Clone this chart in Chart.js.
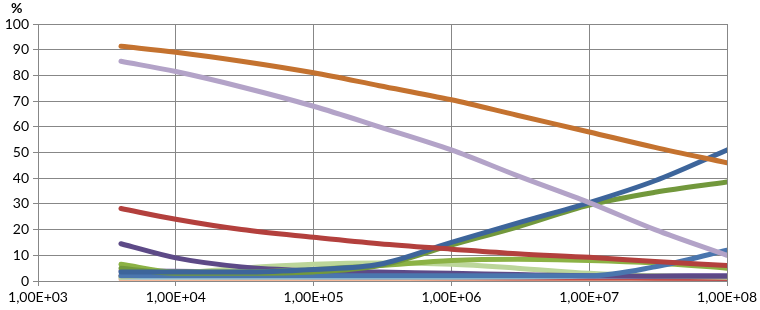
<!DOCTYPE html>
<html>
<head>
<meta charset="utf-8">
<script src="https://cdn.jsdelivr.net/npm/chart.js@4"></script>
<style>
  html, body { margin: 0; padding: 0; background: #fff; }
  #wrap { position: relative; width: 760px; height: 310px; }
  #pct { position: absolute; left: 11px; top: -1px; font: bold 14px Lato, "Open Sans", sans-serif; color: #000; }
</style>
</head>
<body>
<div id="wrap">
  <span id="pct">%</span>
  <canvas id="grafica" width="760" height="310"></canvas>
</div>
<script>
// x positions (log scale) where values were read
const xs = [4e3, 1e4, 3e4, 1e5, 3e5, 1e6, 3e6, 1e7, 3e7, 1e8];
const xTicks = [1e3, 1e4, 1e5, 1e6, 1e7, 1e8];

// series values in %
const naranja      = [91.3, 89.0, 85.5, 81.0, 76.0, 70.5, 64.5, 58.0, 52.0, 46.0];
const lila         = [85.5, 81.5, 75.5, 68.0, 60.0, 51.0, 41.0, 30.5, 20.0, 10.0];
const rojo         = [28.2, 24.0, 20.0, 17.0, 14.5, 12.4, 10.6, 9.2, 7.6, 6.0];
const azul         = [3.5, 3.5, 3.5, 4.5, 6.5, 15.0, 22.5, 30.5, 39.0, 51.0];
const verdeOliva   = [5.0, 3.0, 3.0, 3.5, 6.0, 14.0, 21.0, 29.5, 34.5, 38.5];
const verde        = [6.5, 3.5, 3.5, 4.5, 6.0, 8.0, 8.5, 8.0, 7.0, 5.0];
const moradoOscuro = [14.5, 9.0, 5.5, 4.0, 3.5, 3.0, 2.5, 2.0, 1.8, 1.8];
const morado       = [4.0, 3.8, 3.4, 3.0, 2.8, 2.5, 2.2, 2.0, 2.0, 2.0];
const verdeClaro   = [1.5, 3.0, 5.0, 6.5, 7.0, 6.5, 5.0, 3.0, 2.0, 1.5];
const azulClaro    = [2.0, 2.0, 2.0, 2.0, 2.0, 2.0, 2.0, 2.0, 5.5, 12.0];
const rojoBajo     = [2.0, 1.8, 1.6, 1.5, 1.4, 1.3, 1.2, 1.2, 1.1, 1.0];
const aguaClaro    = [1.5, 1.5, 1.5, 1.5, 1.5, 1.5, 1.6, 1.8, 1.8, 1.8];
const salmon       = [0.8, 0.8, 0.8, 0.8, 0.8, 0.8, 0.8, 0.8, 0.8, 0.8];

function puntos(valores) {
  return valores.map((v, i) => ({ x: xs[i], y: v }));
}

function serie(valores, color) {
  return {
    data: puntos(valores),
    borderColor: color,
    backgroundColor: color,
    borderWidth: 5,
    pointRadius: 0,
    tension: 0.4,
    cubicInterpolationMode: "monotone",
    borderCapStyle: "round",
    fill: false,
  };
}

function formatoExcel(v) {
  const exp = Math.round(Math.log10(v));
  const e = (exp < 10 ? "0" : "") + exp;
  return "1,00E+" + e;
}

const grisRejilla = "#878787";
const fuente = { family: "Lato, 'Open Sans', sans-serif", size: 14 };

new Chart(document.getElementById("grafica").getContext("2d"), {
  type: "line",
  data: {
    datasets: [
      serie(lila, "#B3A3C8"),
      serie(naranja, "#C4722F"),
      serie(rojo, "#B3403D"),
      serie(azul, "#3D659B"),
      serie(verdeOliva, "#72983C"),
      serie(azulClaro, "#4A76AE"),
      serie(verde, "#8CB245"),
      serie(moradoOscuro, "#5D4A87"),
      serie(verdeClaro, "#BCD69A"),
      serie(morado, "#7B5EA6"),
      serie(aguaClaro, "#9DCBD8"),
      serie(rojoBajo, "#C0504D"),
      serie(salmon, "#F7B899"),
    ],
  },
  options: {
    responsive: false,
    animation: false,
    layout: { padding: { top: 24, right: 31, left: 0, bottom: 0 } },
    plugins: { legend: { display: false }, tooltip: { enabled: false } },
    scales: {
      x: {
        type: "logarithmic",
        min: 1e3,
        max: 1e8,
        afterBuildTicks: (eje) => {
          eje.ticks = xTicks.map((v) => ({ value: v }));
        },
        afterFit: (eje) => { eje.height = 29; },
        ticks: {
          callback: (v) => formatoExcel(v),
          color: "#000",
          font: fuente,
          padding: 3,
          maxRotation: 0,
          autoSkip: false,
        },
        grid: { color: grisRejilla, tickLength: 5, tickColor: grisRejilla },
        border: { color: grisRejilla },
      },
      y: {
        min: 0,
        max: 100,
        afterFit: (eje) => { eje.width = 38; },
        ticks: { stepSize: 10, color: "#000", font: fuente, padding: 4 },
        grid: { color: grisRejilla, tickLength: 5, tickColor: grisRejilla },
        border: { color: grisRejilla },
      },
    },
  },
});
</script>
</body>
</html>
